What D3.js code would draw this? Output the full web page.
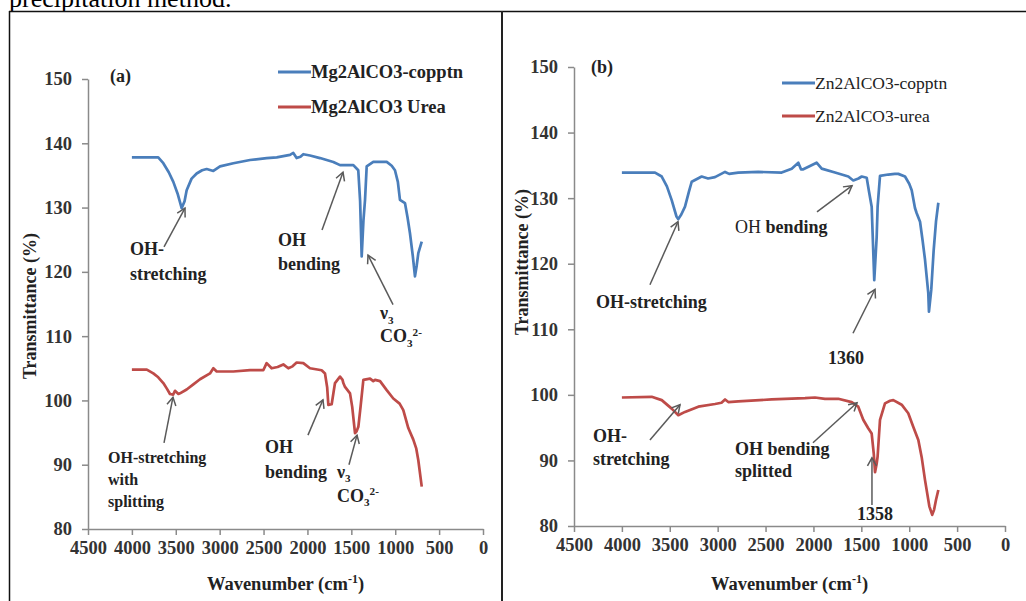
<!DOCTYPE html>
<html><head><meta charset="utf-8">
<script src="https://cdn.jsdelivr.net/npm/d3@7/dist/d3.min.js"></script>
<style>
html,body{margin:0;padding:0;background:#fff;}
svg{display:block;}
text{font-family:"Liberation Serif","Times New Roman",serif;}
</style></head>
<body>
<svg id="c" width="1026" height="601"></svg>
<script>
// ---------- data ----------
const xTicks = [4500,4000,3500,3000,2500,2000,1500,1000,500,0];
const yTicks = [80,90,100,110,120,130,140,150];

const seriesNamesA = ["Mg2AlCO3-copptn","Mg2AlCO3 Urea"];
const seriesNamesB = ["Zn2AlCO3-copptn","Zn2AlCO3-urea"];

// [wavenumber, transmittance]
const mgCopptn = [[4000,137.8],[3850,137.8],[3700,137.8],[3642,136.9],[3580,135.5],[3528,134.0],[3480,132.2],[3433,129.9],[3400,131.0],[3376,132.7],[3320,134.5],[3262,135.3],[3200,135.8],[3148,136.0],[3072,135.7],[2996,136.4],[2844,136.9],[2654,137.4],[2464,137.7],[2350,137.8],[2199,138.2],[2161,138.5],[2123,137.7],[2080,137.9],[2047,138.3],[1971,138.1],[1857,137.7],[1705,137.1],[1629,136.6],[1477,136.6],[1421,135.8],[1400,131.0],[1382,122.4],[1362,128.0],[1344,131.2],[1325,136.4],[1250,137.1],[1150,137.1],[1097,137.1],[1040,136.5],[1003,135.8],[970,134.0],[946,131.2],[889,130.7],[860,128.5],[832,126.0],[800,122.5],[775,119.3],[755,121.0],[737,122.9],[698,124.7]];

const mgUrea = [[4000,104.8],[3830,104.8],[3756,104.2],[3700,103.6],[3642,102.7],[3600,101.8],[3566,101.0],[3530,100.9],[3509,101.5],[3470,101.0],[3452,101.1],[3376,101.7],[3300,102.5],[3224,103.3],[3110,104.2],[3072,105.0],[3034,104.5],[2845,104.5],[2654,104.7],[2503,104.7],[2465,105.8],[2408,105.0],[2340,105.2],[2275,105.6],[2218,105.0],[2170,105.3],[2123,105.9],[2047,105.8],[1971,105.0],[1838,104.7],[1800,104.2],[1775,102.0],[1762,99.3],[1724,99.4],[1700,101.5],[1686,102.7],[1629,103.7],[1600,103.2],[1591,102.7],[1572,102.1],[1515,101.1],[1490,99.0],[1458,94.9],[1440,95.2],[1420,95.9],[1395,99.0],[1363,103.2],[1287,103.4],[1250,103.0],[1230,103.2],[1173,103.0],[1097,101.6],[1022,100.3],[950,99.5],[908,98.5],[851,95.7],[794,93.9],[760,92.5],[737,90.7],[698,86.6]];

const znCopptn = [[4000,133.9],[3654,133.9],[3584,133.3],[3530,131.8],[3480,129.7],[3430,127.2],[3411,126.8],[3380,127.5],[3341,128.7],[3300,131.0],[3271,132.5],[3167,133.3],[3100,133.0],[3028,133.2],[2923,134.0],[2880,133.7],[2785,133.9],[2576,134.0],[2332,133.9],[2227,134.5],[2158,135.4],[2130,134.4],[2106,134.4],[2036,134.9],[1967,135.4],[1914,134.5],[1775,133.9],[1636,133.3],[1584,132.7],[1530,133.0],[1496,133.3],[1444,133.1],[1420,131.0],[1392,128.7],[1365,117.5],[1340,124.0],[1330,128.7],[1305,133.4],[1219,133.6],[1150,133.7],[1114,133.7],[1044,133.3],[1000,132.2],[974,131.2],[940,128.5],[922,127.7],[887,126.4],[860,123.5],[835,120.6],[801,115.5],[794,112.7],[770,116.0],[745,122.0],[720,126.5],[696,129.3]];

const znUrea = [[4000,99.6],[3689,99.7],[3584,99.2],[3480,97.9],[3411,96.9],[3341,97.4],[3202,98.2],[3028,98.6],[2960,98.8],[2923,99.3],[2889,98.9],[2785,99.0],[2436,99.3],[2088,99.5],[1984,99.6],[1880,99.4],[1741,99.4],[1601,98.9],[1532,98.2],[1480,96.2],[1428,94.9],[1392,94.1],[1370,91.0],[1357,88.2],[1340,89.5],[1330,90.6],[1305,96.2],[1253,98.7],[1200,99.1],[1166,99.2],[1079,98.5],[1010,97.2],[960,95.2],[905,93.1],[870,90.5],[835,87.0],[790,83.0],[760,81.7],[740,82.5],[720,84.0],[696,85.5]];

// annotations (data coordinates): text anchor, lines, arrow from -> to
const annA = [
  {x:4022,y:122.6,lh:25,size:18,lines:[[{t:"OH-"}],[{t:"stretching"}]],a:[3634,123.9,3395,129.9]},
  {x:2336,y:124.0,lh:24,size:18,lines:[[{t:"OH"}],[{t:"bending"}]],a:[1834,126.5,1595,135.5]},
  {x:1173,y:112.6,lh:23,size:18,lines:[[{t:"ν"},{t:"3",sub:true}],[{t:"CO"},{t:"3",sub:true},{t:"2-",sup:true}]],a:[1025,114.9,1310,122.6]},
  {x:4272,y:90.3,lh:22,size:16,lines:[[{t:"OH-stretching"}],[{t:"with"}],[{t:"splitting"}]],a:[3634,93.4,3532,100.5]},
  {x:2484,y:91.8,lh:25,size:18,lines:[[{t:"OH"}],[{t:"bending"}]],a:[1994,94.6,1823,100.1]},
  {x:1663,y:88.0,lh:24,size:18,lines:[[{t:"ν"},{t:"3",sub:true}],[{t:"CO"},{t:"3",sub:true},{t:"2-",sup:true}]],a:[1527,90.0,1435,94.6]}
];
const annB = [
  {x:4270,y:113.2,lh:22,size:18,lines:[[{t:"OH-stretching"}]],a:[3707,116.8,3414,126.4]},
  {x:2819,y:124.7,lh:22,size:18,lines:[[{t:"OH ",w:"normal"},{t:"bending"}]],a:[1963,127.9,1597,131.9]},
  {x:1848,y:104.7,lh:22,size:18,lines:[[{t:"1360"}]],a:[1587,109.4,1357,116.1]},
  {x:4302,y:92.8,lh:23,size:18,lines:[[{t:"OH-"}],[{t:"stretching"}]],a:[3707,93.1,3393,98.5]},
  {x:2819,y:90.8,lh:22,size:18,lines:[[{t:"OH bending"}],[{t:"splitted"}]],a:[2005,92.7,1545,98.8]},
  {x:1545,y:80.9,lh:22,size:18,lines:[[{t:"1358"}]],a:[1389,83.2,1389,90.4]}
];

// ---------- drawing ----------
const svg = d3.select("#c");
const BLUE = "#4a7ebb", RED = "#be4b48", AXIS = "#8a8a8a", ARROW = "#5a5a5a";

svg.append("defs").append("marker")
  .attr("id","arr").attr("markerUnits","userSpaceOnUse")
  .attr("markerWidth",12).attr("markerHeight",12)
  .attr("refX",10).attr("refY",6).attr("orient","auto")
  .append("path").attr("d","M2,1.5 L10,6 L2,10.5")
  .attr("fill","none").attr("stroke",ARROW).attr("stroke-width",1.5);

// page text and frame
svg.append("text").attr("x",9).attr("y",7).attr("font-size",26).attr("fill","#000")
  .text("precipitation method.");
svg.append("line").attr("x1",9).attr("x2",1026).attr("y1",11.5).attr("y2",11.5).attr("stroke","#111").attr("stroke-width",1.5);
svg.append("line").attr("x1",9.5).attr("x2",9.5).attr("y1",11).attr("y2",601).attr("stroke","#111").attr("stroke-width",1.5);
svg.append("line").attr("x1",502).attr("x2",502).attr("y1",11).attr("y2",601).attr("stroke","#222").attr("stroke-width",2);

function richText(g, x, y, segs, size){
  const t = g.append("text").attr("x",x).attr("y",y).attr("font-size",size)
    .attr("font-weight","bold").attr("fill","#222");
  let off = 0;
  segs.forEach(s=>{
    let target = s.sub ? size*0.26 : (s.sup ? -size*0.34 : 0);
    const ts = t.append("tspan").attr("dy", target-off).text(s.t);
    if (s.sub || s.sup) ts.attr("font-size", size*0.62);
    if (s.w) ts.attr("font-weight", s.w);
    off = target;
  });
  return t;
}

function panel(cfg){
  const x = d3.scaleLinear().domain([4500,0]).range(cfg.xr);
  const y = d3.scaleLinear().domain([80,150]).range(cfg.yr);
  const g = svg.append("g");

  const ya = g.append("g").attr("transform",`translate(${cfg.xr[0]},0)`)
    .call(d3.axisLeft(y).tickValues(yTicks).tickSize(6).tickSizeOuter(0).tickPadding(cfg.yPad).tickFormat(d3.format("d")));
  const xa = g.append("g").attr("transform",`translate(0,${cfg.yr[0]})`)
    .call(d3.axisBottom(x).tickValues(xTicks).tickSize(6).tickSizeOuter(0).tickPadding(6).tickFormat(d3.format("d")));
  [ya,xa].forEach(a=>{
    a.attr("font-family","Liberation Serif");
    a.select(".domain").attr("stroke",AXIS).attr("stroke-width",1.5);
    a.selectAll(".tick line").attr("stroke",AXIS).attr("stroke-width",1.5);
    a.selectAll(".tick text").attr("font-family","Liberation Serif").attr("font-weight","bold")
      .attr("font-size",18.5).attr("fill","#333");
  });

  const line = d3.line().x(d=>x(d[0])).y(d=>y(d[1]));
  cfg.series.forEach((s,i)=>{
    g.append("path").datum(s).attr("d",line).attr("fill","none")
      .attr("stroke",[BLUE,RED][i]).attr("stroke-width",2.7).attr("stroke-linejoin","round");
  });

  // panel label
  g.append("text").attr("x",x(cfg.lab[0])).attr("y",y(cfg.lab[1])).attr("font-size",18)
    .attr("font-weight","bold").attr("fill","#222").text(cfg.label);

  // legend
  cfg.names.forEach((n,i)=>{
    const ly = cfg.leg[1] + i*cfg.leg[2];
    g.append("line").attr("x1",cfg.leg[0]).attr("x2",cfg.leg[0]+33).attr("y1",ly).attr("y2",ly)
      .attr("stroke",[BLUE,RED][i]).attr("stroke-width",3);
    g.append("text").attr("x",cfg.leg[0]+33).attr("y",ly+5.5).attr("font-size",cfg.legSize)
      .attr("font-weight",cfg.legWeight).attr("fill","#222").text(n);
  });

  // annotations
  cfg.ann.forEach(a=>{
    a.lines.forEach((ln,k)=> richText(g, x(a.x), y(a.y)+k*a.lh, ln, a.size));
    g.append("line").attr("x1",x(a.a[0])).attr("y1",y(a.a[1])).attr("x2",x(a.a[2])).attr("y2",y(a.a[3]))
      .attr("stroke",ARROW).attr("stroke-width",1.5).attr("marker-end","url(#arr)");
  });

  // axis titles
  const xt = g.append("text").attr("x",(cfg.xr[0]+cfg.xr[1])/2).attr("y",cfg.xt).attr("text-anchor","middle")
    .attr("font-size",18.5).attr("font-weight","bold").attr("fill","#222");
  xt.append("tspan").text("Wavenumber  (cm");
  xt.append("tspan").attr("dy",-7).attr("font-size",12).text("-1");
  xt.append("tspan").attr("dy",7).text(")");
  g.append("text").attr("transform",`translate(${cfg.yt[0]},${cfg.yt[1]}) rotate(-90)`)
    .attr("text-anchor","middle").attr("font-size",18).attr("font-weight","bold").attr("fill","#222")
    .text("Transmittance  (%)");
}

panel({xr:[88,483], yr:[529,79], yPad:10, series:[mgCopptn,mgUrea], names:seriesNamesA,
  label:"(a)", lab:[4249,149.5], leg:[278,72,35], legSize:18.5, legWeight:"bold",
  ann:annA, xt:590, yt:[36,306]});
panel({xr:[574,1005], yr:[526,67], yPad:10, series:[znCopptn,znUrea], names:seriesNamesB,
  label:"(b)", lab:[4323,149.1], leg:[782,83,33], legSize:17.5, legWeight:"normal",
  ann:annB, xt:590, yt:[528,262]});
</script>
</body></html>
